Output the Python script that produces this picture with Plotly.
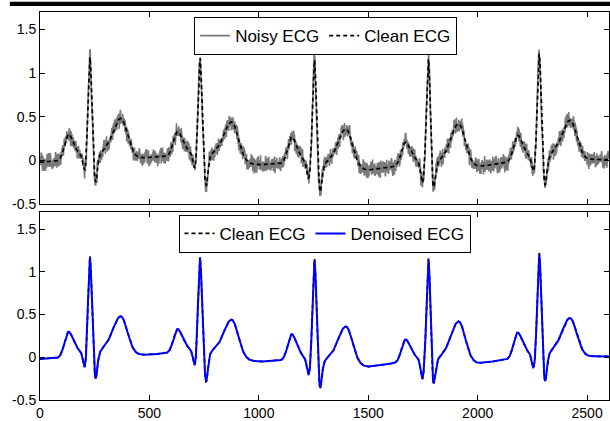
import numpy as np
import plotly.graph_objects as go
from plotly.subplots import make_subplots

# ---------------- data ----------------
# beat landmarks (sample index, absolute amplitude)
p_pos = [130, 629, 1150, 1670, 2182]
p_amp = [0.30, 0.33, 0.27, 0.21, 0.29]
q_pos = [205, 708, 1228, 1747, 2255]
q_amp = [-0.15, -0.12, -0.22, -0.27, -0.15]
r_pos = [228, 731, 1254, 1775, 2281]
r_amp = [1.18, 1.17, 1.15, 1.16, 1.22]
s_pos = [254, 759, 1280, 1797, 2308]
s_amp = [-0.27, -0.30, -0.38, -0.35, -0.30]
t_pos = [369, 876, 1398, 1913, 2422]
t_amp = [0.48, 0.44, 0.36, 0.42, 0.46]

# isoelectric baseline read at a few positions
base_x = [0, 100, 200, 300, 480, 600, 700, 800, 1000, 1100, 1200, 1300,
          1500, 1620, 1700, 1850, 2000, 2130, 2250, 2350, 2500, 2600]
base_y = [-0.02, -0.01, 0.0, 0.02, 0.03, 0.05, 0.03, 0.0, -0.05, -0.04, -0.06, -0.09,
          -0.11, -0.07, -0.07, -0.08, -0.07, -0.03, -0.02, 0.0, 0.01, 0.01]

noise_a = [0.040, -0.061, 0.016, 0.075, -0.029, -0.079, 0.057, 0.008, -0.046, 0.068,
           -0.018, 0.035, -0.072, 0.051, 0.023, -0.055, 0.082, -0.010, -0.038, 0.061,
           -0.086, 0.027, 0.046, -0.022, 0.070, -0.064, 0.004, 0.053, -0.049, 0.020,
           -0.074, 0.042, 0.064, -0.033, -0.005, 0.077, -0.057, 0.031, -0.082, 0.014,
           0.048, -0.040, 0.073, -0.025, 0.010, -0.068, 0.056, -0.047, 0.036, 0.079,
           -0.014, -0.060, 0.025, 0.044, -0.075, 0.007, 0.060, -0.035, 0.017, -0.052,
           0.066, -0.008, 0.049, -0.043]
noise_b = [0.016, -0.023, 0.008, 0.027, -0.012, -0.031, 0.020, -0.004, 0.025, -0.018,
           0.010, -0.027, 0.022, 0.003, -0.014, 0.030, -0.021, 0.005, 0.017, -0.026,
           0.013, -0.008, 0.029, -0.017, -0.001, 0.023, -0.030, 0.009, 0.018, -0.010,
           0.026, -0.022, 0.004, 0.014, -0.029, 0.021, -0.006]

x_ticks = [0, 500, 1000, 1500, 2000, 2500]
y_ticks = [-0.5, 0, 0.5, 1, 1.5]
y_tick_text = ["-0.5", "0", "0.5", "1", "1.5"]

# ---------------- build the traces ----------------
n = np.arange(0, 2601)
base = np.interp(n, base_x, base_y)


def bump(c, a, sl, sr=None):
    sr = sl if sr is None else sr
    s = np.where(n < c, sl, sr)
    return a * np.exp(-0.5 * ((n - c) / s) ** 2)


def b(p):
    return np.interp(p, base_x, base_y)


clean = base.copy()
for i in range(len(r_pos)):
    clean += bump(p_pos[i], p_amp[i] - b(p_pos[i]), 18, 24)
    clean += bump(p_pos[i] + 50, 0.05, 14)
    clean += bump(q_pos[i], q_amp[i] - b(q_pos[i]), 7)
    clean += bump(r_pos[i], r_amp[i] - b(r_pos[i]), 8.5)
    clean += bump(s_pos[i], s_amp[i] - b(s_pos[i]), 7.5)
    clean += bump(s_pos[i] + 35, 0.04, 15)
    clean += bump(t_pos[i], t_amp[i] - b(t_pos[i]), 40, 30)

na = np.array(noise_a)
nb = np.array(noise_b)
noisy = clean + na[(n * 7) % len(na)] + nb[(n * 5) % len(nb)]

kernel = np.ones(5) / 5
denoised = np.convolve(clean, kernel, mode="same")
denoised[:3] = clean[:3]
denoised[-3:] = clean[-3:]

# ---------------- figure ----------------
fig = make_subplots(rows=2, cols=1, shared_xaxes=False, vertical_spacing=0.02)

fig.add_trace(go.Scatter(x=n, y=noisy, mode="lines", name="Noisy ECG",
                         line=dict(color="#7a7a7a", width=1.6), legend="legend"), row=1, col=1)
fig.add_trace(go.Scatter(x=n, y=clean, mode="lines", name="Clean ECG",
                         line=dict(color="black", width=1.7, dash="4px,3px"), legend="legend"), row=1, col=1)
fig.add_trace(go.Scatter(x=n, y=clean, mode="lines", name="Clean ECG",
                         line=dict(color="black", width=1.7, dash="4px,3px"), legend="legend2"), row=2, col=1)
fig.add_trace(go.Scatter(x=n, y=denoised, mode="lines", name="Denoised ECG",
                         line=dict(color="#0000FF", width=2), legend="legend2"), row=2, col=1)

axis_common = dict(showline=True, linecolor="black", linewidth=1, mirror="allticks",
                   ticks="inside", ticklen=5, tickcolor="black", showgrid=False,
                   zeroline=False, automargin=False, tickfont=dict(size=14))

fig.update_xaxes(range=[0, 2600], tickvals=x_ticks, **axis_common)
fig.update_xaxes(showticklabels=False, row=1, col=1)
fig.update_yaxes(range=[-0.5, 1.7], tickvals=y_ticks, ticktext=y_tick_text, **axis_common)

fig.update_layout(
    width=610, height=421,
    margin=dict(l=40, r=1, t=12, b=21),
    paper_bgcolor="white", plot_bgcolor="white",
    font=dict(family="Liberation Sans, Arial, sans-serif", size=15, color="black"),
    xaxis=dict(domain=[0, 1]),
    yaxis=dict(domain=[0.505, 1.0]),
    yaxis2=dict(domain=[0.0, 0.4845]),
    legend=dict(orientation="h", x=0.502, xanchor="center", y=0.987, yanchor="top",
                bgcolor="white", bordercolor="black", borderwidth=1,
                font=dict(size=17), itemwidth=30, tracegroupgap=0),
    legend2=dict(orientation="h", x=0.5, xanchor="center", y=0.477, yanchor="top",
                 bgcolor="white", bordercolor="black", borderwidth=1,
                 font=dict(size=17), itemwidth=30, tracegroupgap=0),
    shapes=[dict(type="rect", xref="paper", yref="paper", x0=-0.053, x1=1.002,
                 y0=1.0155, y1=1.0266, fillcolor="black", line=dict(width=0))],
)

fig.write_html(
    "out.html",
    config={"displayModeBar": False},
    post_script="document.body.style.margin='0';document.body.style.padding='0';"
                "document.documentElement.style.overflow='hidden';",
)
